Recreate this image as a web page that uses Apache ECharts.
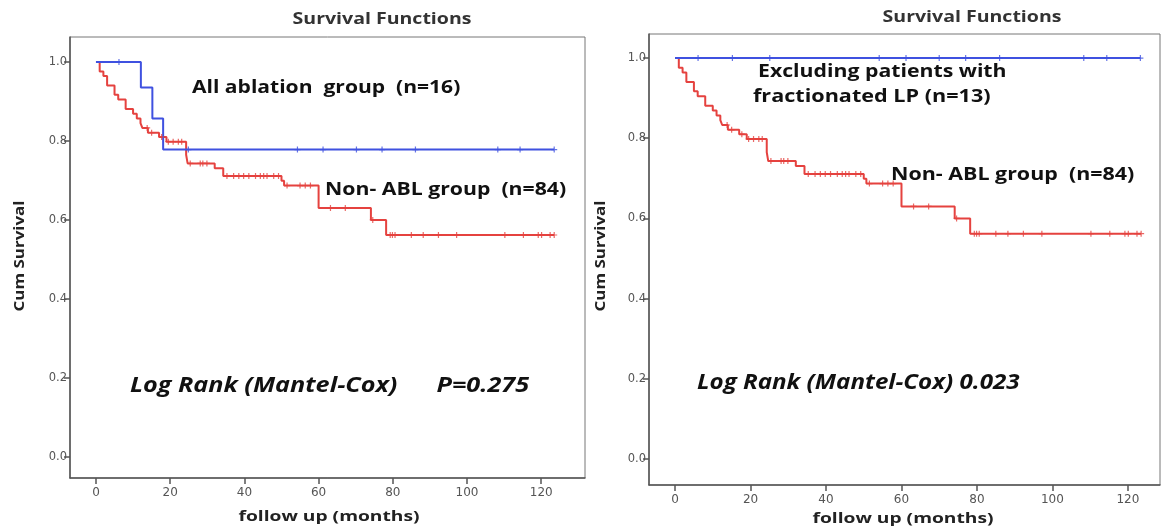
<!DOCTYPE html>
<html>
<head>
<meta charset="utf-8">
<script src="https://cdn.jsdelivr.net/npm/echarts@6.0.0/dist/echarts.min.js"></script>
<style>
  html, body {margin: 0; padding: 0; background: #fff;}
  #main {width: 1167px; height: 529px;}
</style>
</head>
<body>
<div id="main"></div>
<script>
// Non-ABL group (n=84), same curve on both panels
const redTimes = [0, 1, 2, 3, 5, 6, 8, 10, 11, 12, 12.5, 14, 17, 19, 24.3, 24.7, 32, 34.3, 50, 50.7, 60, 74.1, 78.2];
const redSurv = [1.0, 0.976, 0.964, 0.940, 0.917, 0.905, 0.881, 0.869, 0.857, 0.845, 0.833, 0.821, 0.810, 0.798, 0.765, 0.743, 0.731, 0.711, 0.699, 0.687, 0.630, 0.600, 0.562];
const redEnd = 123.5;
const redCensor = [13.8, 15.0, 17.7, 19.5, 20.8, 22.2, 23.1, 25.4, 28.1, 28.8, 29.9, 35.3, 37.1, 38.5, 39.8, 41.2, 43.0, 44.3, 45.2, 46.1, 47.9, 49.2,
    51.5, 55.0, 56.4, 57.8, 63.2, 67.2, 74.6, 79.3, 79.9, 80.6, 85.0, 88.2, 92.3, 97.2, 110.2, 115.2, 119.2, 120.1, 122.4, 123.5];

// All ablation group (n=16)
const ablTimes = [0, 12.1, 15.2, 18.1];
const ablSurv = [1.0, 0.935, 0.857, 0.778];
const ablEnd = 123.5;
const ablCensor = [6.2, 24.9, 54.3, 61.2, 70.2, 77.1, 86.1, 108.3, 114.3, 123.5];

// Excluding patients with fractionated LP (n=13)
const exTimes = [0];
const exSurv = [1.0];
const exEnd = 123.3;
const exCensor = [6.1, 15.2, 25.1, 54.1, 61.2, 70.0, 77.0, 86.0, 108.3, 114.4, 123.3];

const xTicks = [0, 20, 40, 60, 80, 100, 120];
const yTicks = [0, 0.2, 0.4, 0.6, 0.8, 1.0];

const RED = "#e5423f";
const BLUE = "#3f51e0";
const AXIS = "#555";
const LABEL_FONT = "DejaVu Sans";
const NOTE_FONT = "Open Sans";

const stepPoints = (times, surv, end) => {
    const pts = times.map((t, i) => [t, surv[i]]);
    pts.push([end, surv[surv.length - 1]]);
    return pts
}

const survAt = (times, surv, t) => {
    let s = surv[0];
    for (let i = 0; i < times.length; i++) {
        if (times[i] <= t) s = surv[i];
    }
    return s
}

const censorPoints = (times, surv, censor) => censor.map(t => [t, survAt(times, surv, t)]);

const plus = "path://M4,0 L6,0 L6,4 L10,4 L10,6 L6,6 L6,10 L4,10 L4,6 L0,6 L0,4 L4,4 Z";

const curve = (idx, times, surv, end, censor, color) => [
    {
        type: "line", xAxisIndex: idx, yAxisIndex: idx, step: "end",
        data: stepPoints(times, surv, end), showSymbol: false, symbol: "none",
        lineStyle: {color, width: 2}, silent: true, z: 3,
    },
    {
        type: "scatter", xAxisIndex: idx, yAxisIndex: idx,
        data: censorPoints(times, surv, censor), symbol: plus, symbolSize: 6,
        itemStyle: {color}, silent: true, z: 4,
    },
];

const xAxis = (idx, min, max) => ({
    type: "value", gridIndex: idx, min, max,
    axisLine: {show: true, onZero: false, lineStyle: {color: AXIS, width: 1.5}},
    axisTick: {show: true, length: 6, customValues: xTicks, lineStyle: {color: AXIS, width: 1.5}},
    axisLabel: {customValues: xTicks, color: "#555", fontFamily: LABEL_FONT, fontSize: 12, margin: 9},
    splitLine: {show: false},
});

const yAxis = (idx, min, max) => ({
    type: "value", gridIndex: idx, min, max,
    axisLine: {show: true, onZero: false, lineStyle: {color: AXIS, width: 1.5}},
    axisTick: {show: true, length: 6, customValues: yTicks, lineStyle: {color: AXIS, width: 1.5}},
    axisLabel: {customValues: yTicks, color: "#555", fontFamily: LABEL_FONT, fontSize: 11.5, margin: 3,
        formatter: v => v.toFixed(1)},
    splitLine: {show: false},
});

// text in the source is stretched sideways, hence scaleX
const note = (x, y, text, size, sx, italic) => ({
    type: "text", x, y, scaleX: sx, silent: true,
    style: {text, fill: "#111", font: `${italic ? "italic " : ""}bold ${size}px ${NOTE_FONT}`, textVerticalAlign: "middle"},
});

const label = (x, y, text, size, sx, rotate, color = "#222") => ({
    type: "text", x, y, scaleX: sx, rotation: rotate ? Math.PI / 2 : 0, silent: true,
    style: {text, fill: color, font: `bold ${size}px ${NOTE_FONT}`, textAlign: "center", textVerticalAlign: "middle"},
});

const chart = echarts.init(document.getElementById("main"), null, {renderer: "canvas"});
chart.setOption({
    animation: false,
    backgroundColor: "#fff",
    grid: [
        {left: 70, top: 37, width: 515, height: 441, show: true, borderColor: "#777", borderWidth: 1, backgroundColor: "#fff"},
        {left: 649, top: 34, width: 511, height: 451, show: true, borderColor: "#777", borderWidth: 1, backgroundColor: "#fff"},
    ],
    xAxis: [xAxis(0, -7.0, 131.8), xAxis(1, -6.9, 128.5)],
    yAxis: [yAxis(0, -0.053, 1.063), yAxis(1, -0.065, 1.06)],
    series: [
        ...curve(0, redTimes, redSurv, redEnd, redCensor, RED),
        ...curve(0, ablTimes, ablSurv, ablEnd, ablCensor, BLUE),
        ...curve(1, redTimes, redSurv, redEnd, redCensor, RED),
        ...curve(1, exTimes, exSurv, exEnd, exCensor, BLUE),
    ],
    graphic: [
        label(382, 19, "Survival Functions", 16, 1.22, false, "#333"),
        label(972, 17, "Survival Functions", 16, 1.22, false, "#333"),
        label(20, 256, "Cum Survival", 15, 1.13, true),
        label(329, 517, "follow up (months)", 15, 1.28),
        label(601, 256, "Cum Survival", 15, 1.13, true),
        label(903, 519, "follow up (months)", 15, 1.28),
        note(192, 88, "All ablation  group  (n=16)", 18, 1.17),
        note(325, 190, "Non- ABL group  (n=84)", 18, 1.18),
        note(130, 386, "Log Rank (Mantel-Cox)      P=0.275", 21, 1.2, true),
        note(758, 72, "Excluding patients with", 18, 1.18),
        note(753, 97, "fractionated LP (n=13)", 18, 1.2),
        note(891, 175, "Non- ABL group  (n=84)", 18, 1.19),
        note(697, 383, "Log Rank (Mantel-Cox) 0.023", 21, 1.15, true),
    ],
});
</script>
</body>
</html>
